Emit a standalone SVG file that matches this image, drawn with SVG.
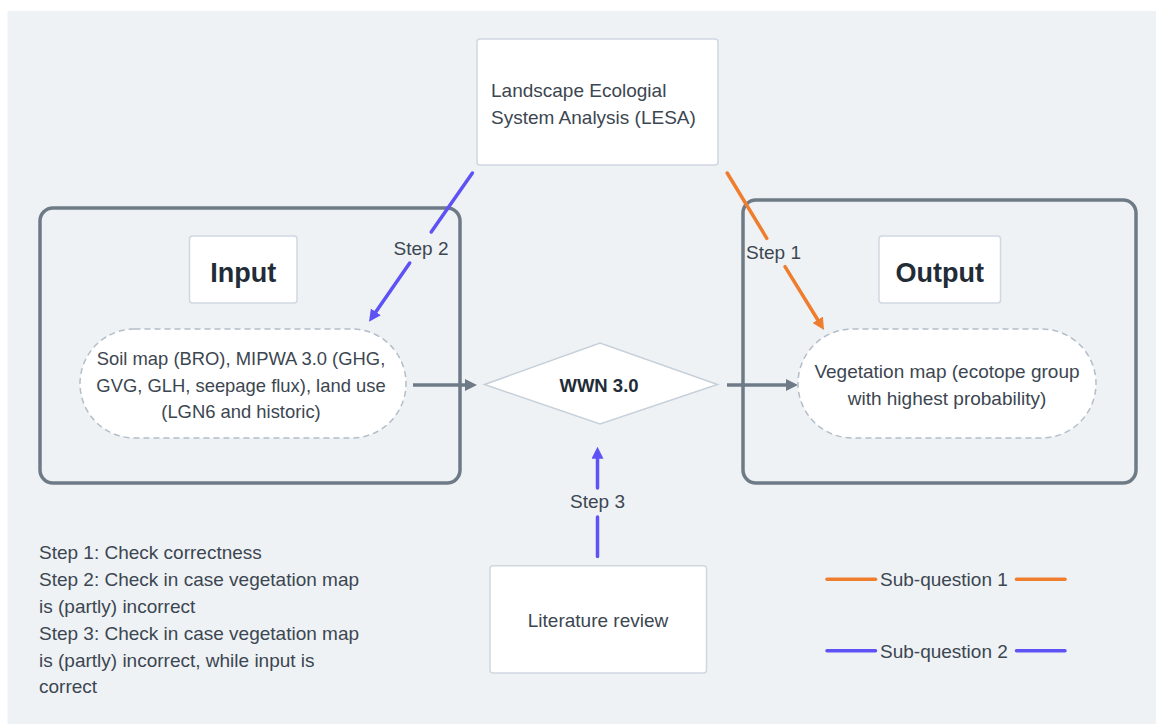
<svg xmlns="http://www.w3.org/2000/svg" width="1156" height="724" viewBox="0 0 1156 724">
  <style>
    .txt { font-family: "Liberation Sans", Arial, sans-serif; font-size: 19px; fill: #3c4651; }
    .mid { text-anchor: middle; }
    .bold { font-weight: bold; fill: #222c37; }
    .small { font-size: 18.4px; }
    .container { fill: none; stroke: #6e7b87; stroke-width: 3.5; }
    .label-box { fill: #ffffff; stroke: #cfd8e1; stroke-width: 1.5; }
    .stadium { fill: #ffffff; stroke: #b3bec9; stroke-width: 1.5; stroke-dasharray: 6 4; }
    .diamond { fill: #ffffff; stroke: #c6d0da; stroke-width: 1.5; }
    .flow { stroke: #6e7b87; stroke-width: 3.5; fill: none; }
    .sq1 { stroke: #ee7d2e; stroke-width: 3.5; fill: none; stroke-linecap: round; }
    .sq2 { stroke: #5f52f5; stroke-width: 3.5; fill: none; stroke-linecap: round; }
  </style>
  <defs>
    <marker id="arrow-gray" viewBox="0 0 12 12" markerWidth="12" markerHeight="12" markerUnits="userSpaceOnUse" refX="2" refY="6" orient="auto">
      <path d="M0,0 L12,6 L0,12 z" fill="#6e7b87"/>
    </marker>
    <marker id="arrow-orange" viewBox="0 0 12 12" markerWidth="12" markerHeight="12" markerUnits="userSpaceOnUse" refX="2" refY="6" orient="auto">
      <path d="M0,0 L12,6 L0,12 z" fill="#ee7d2e"/>
    </marker>
    <marker id="arrow-purple" viewBox="0 0 12 12" markerWidth="12" markerHeight="12" markerUnits="userSpaceOnUse" refX="2" refY="6" orient="auto">
      <path d="M0,0 L12,6 L0,12 z" fill="#5f52f5"/>
    </marker>
  </defs>

  <!-- canvas -->
  <rect x="0" y="0" width="1156" height="724" fill="#ffffff"/>
  <rect x="7.5" y="11" width="1148.5" height="713" fill="#eef2f5"/>

  <!-- containers -->
  <g id="input-container">
    <rect class="container" x="40" y="208" width="420" height="275" rx="13"/>
  </g>
  <g id="output-container">
    <rect class="container" x="743" y="200" width="393" height="283" rx="13"/>
  </g>

  <!-- connectors -->
  <g id="connectors">
    <!-- Step 2: LESA to input data -->
    <line class="sq2" x1="472.4" y1="173" x2="431.2" y2="232"/>
    <line class="sq2" x1="409.7" y1="263" x2="374.7" y2="313.5" marker-end="url(#arrow-purple)"/>
    <text class="txt mid" x="421" y="255">Step 2</text>
    <!-- Step 1: LESA to vegetation map -->
    <line class="sq1" x1="727.2" y1="173" x2="766.8" y2="238.3"/>
    <line class="sq1" x1="785" y1="266.7" x2="818.8" y2="321.5" marker-end="url(#arrow-orange)"/>
    <text class="txt mid" x="773.5" y="259.3">Step 1</text>
    <!-- Step 3: literature review to model -->
    <line class="sq2" x1="597.5" y1="556.5" x2="597.5" y2="517"/>
    <line class="sq2" x1="597.5" y1="488" x2="597.5" y2="456.7" marker-end="url(#arrow-purple)"/>
    <text class="txt mid" x="597.5" y="508">Step 3</text>
    <!-- main flow -->
    <line class="flow" x1="413" y1="385" x2="467" y2="385" marker-end="url(#arrow-gray)"/>
    <line class="flow" x1="727" y1="385" x2="788" y2="385" marker-end="url(#arrow-gray)"/>
  </g>

  <!-- nodes -->
  <g id="lesa">
    <rect class="label-box" x="477" y="39" width="241" height="126" rx="3"/>
    <text class="txt" x="491" y="97">Landscape Ecologial</text>
    <text class="txt" x="491" y="123.5">System Analysis (LESA)</text>
  </g>

  <g id="input-title">
    <rect class="label-box" x="189.5" y="236" width="107.5" height="67" rx="3"/>
    <text class="txt mid bold" x="243.3" y="281.5" style="font-size:27px">Input</text>
  </g>

  <g id="output-title">
    <rect class="label-box" x="879" y="236" width="121.5" height="67" rx="3"/>
    <text class="txt mid bold" x="939.8" y="281.5" style="font-size:27px">Output</text>
  </g>

  <g id="input-data">
    <rect class="stadium" x="80" y="329" width="326" height="109" rx="54.5"/>
    <text class="txt mid small" x="241" y="365">Soil map (BRO), MIPWA 3.0 (GHG,</text>
    <text class="txt mid small" x="241" y="391.7">GVG, GLH, seepage flux), land use</text>
    <text class="txt mid small" x="241" y="418.3">(LGN6 and historic)</text>
  </g>

  <g id="wwn">
    <polygon class="diamond" points="484.5,384.5 600,343 717.5,384.5 600,424"/>
    <text class="txt mid bold" x="599" y="391.5" style="font-size:18.5px">WWN 3.0</text>
  </g>

  <g id="vegetation-map">
    <rect class="stadium" x="798" y="329" width="298" height="109" rx="54.5"/>
    <text class="txt mid" x="947" y="378.3">Vegetation map (ecotope group</text>
    <text class="txt mid" x="947" y="405">with highest probability)</text>
  </g>

  <g id="literature-review">
    <rect class="label-box" x="490" y="565.7" width="216.5" height="107.3" rx="3"/>
    <text class="txt mid" x="598" y="626.5">Literature review</text>
  </g>

  <!-- step notes -->
  <g id="step-notes">
    <text class="txt" x="39" y="559.3">Step 1: Check correctness</text>
    <text class="txt" x="39" y="586.1">Step 2: Check in case vegetation map</text>
    <text class="txt" x="39" y="612.9">is (partly) incorrect</text>
    <text class="txt" x="39" y="639.7">Step 3: Check in case vegetation map</text>
    <text class="txt" x="39" y="666.5">is (partly) incorrect, while input is</text>
    <text class="txt" x="39" y="693.3">correct</text>
  </g>

  <!-- legend -->
  <g id="legend">
    <line class="sq1" x1="827" y1="579.3" x2="875.5" y2="579.3"/>
    <text class="txt" x="880" y="586">Sub-question 1</text>
    <line class="sq1" x1="1016.5" y1="579.3" x2="1065" y2="579.3"/>
    <line class="sq2" x1="827" y1="650.7" x2="875.5" y2="650.7"/>
    <text class="txt" x="880" y="657.5">Sub-question 2</text>
    <line class="sq2" x1="1016.5" y1="650.7" x2="1065" y2="650.7"/>
  </g>
</svg>
